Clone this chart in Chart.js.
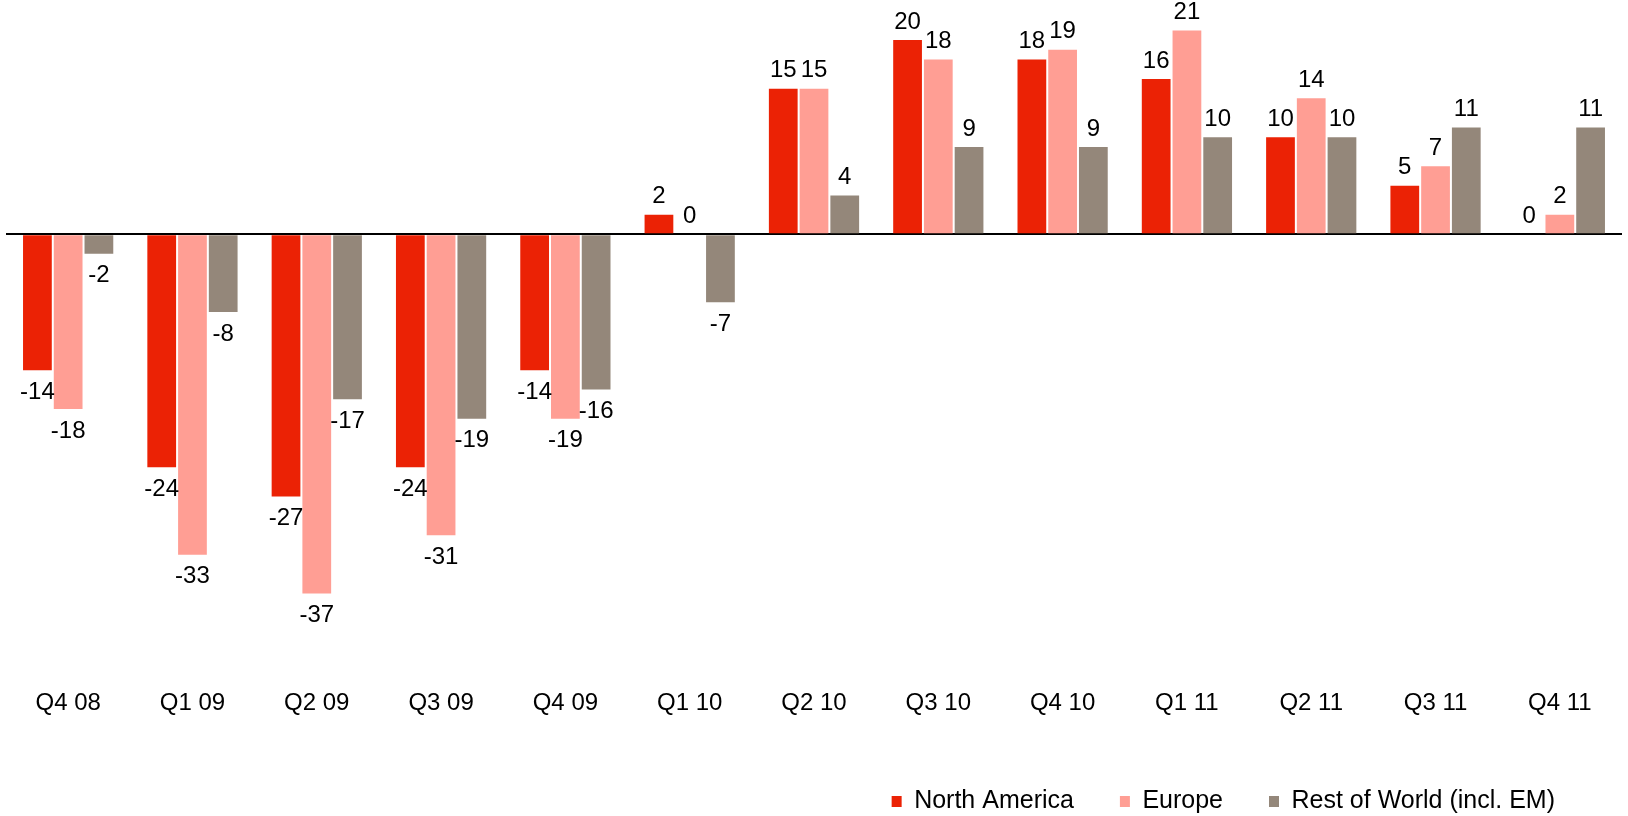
<!DOCTYPE html>
<html lang="en">
<head>
    <meta charset="UTF-8">
    <title>Quarterly change by region</title>
    <script src="https://cdn.jsdelivr.net/npm/chart.js"></script>
    <style>
        body { margin: 0; background: #fff; }
        #wrap { width: 1628px; height: 816px; }
    </style>
</head>
<body>
    <div id="wrap"><canvas id="regionChart"></canvas></div>
    <script>
        // data
        const quarters = ['Q4 08', 'Q1 09', 'Q2 09', 'Q3 09', 'Q4 09', 'Q1 10', 'Q2 10',
                          'Q3 10', 'Q4 10', 'Q1 11', 'Q2 11', 'Q3 11', 'Q4 11'];
        const northAmerica = [-14, -24, -27, -24, -14, 2, 15, 20, 18, 16, 10, 5, 0];
        const europe = [-18, -33, -37, -31, -19, 0, 15, 18, 19, 21, 14, 7, 2];
        const restOfWorld = [-2, -8, -17, -19, -16, -7, 4, 9, 9, 10, 10, 11, 11];

        const FONT = '"Liberation Sans", Arial, sans-serif';
        Chart.defaults.font.family = FONT;
        Chart.defaults.color = '#000';

        // value labels above / below each bar
        const valueLabels = {
            id: 'valueLabels',
            afterDatasetsDraw(chart) {
                const ctx = chart.ctx;
                ctx.save();
                ctx.font = '24px ' + FONT;
                ctx.fillStyle = '#000';
                ctx.textAlign = 'center';
                ctx.textBaseline = 'middle';
                chart.data.datasets.forEach((ds, i) => {
                    chart.getDatasetMeta(i).data.forEach((bar, j) => {
                        const v = ds.data[j];
                        const y = v >= 0 ? bar.y - 18 : bar.y + 22;
                        ctx.fillText(String(v), bar.x, y);
                    });
                });
                ctx.restore();
            }
        };

        // nudge legend down and left, x labels up
        const layoutNudge = {
            id: 'layoutNudge',
            afterLayout(chart) {
                const lg = chart.legend;
                lg.right -= 21;
                lg.top += 8;
                lg.bottom += 8;
                const xs = chart.scales.x;
                xs.top -= 14;
                xs.bottom -= 14;
            }
        };

        const ctx = document.getElementById('regionChart').getContext('2d');
        new Chart(ctx, {
            type: 'bar',
            data: {
                labels: quarters,
                datasets: [
                    { label: 'North America', data: northAmerica, backgroundColor: '#EB2205' },
                    { label: 'Europe', data: europe, backgroundColor: '#FF9E94' },
                    { label: 'Rest of World (incl. EM)', data: restOfWorld, backgroundColor: '#94877A' }
                ]
            },
            options: {
                responsive: true,
                maintainAspectRatio: false,
                animation: false,
                layout: { padding: { left: 6, right: 6, top: 0, bottom: 0 } },
                datasets: {
                    bar: { categoryPercentage: 0.742, barPercentage: 0.935, borderWidth: 0 }
                },
                plugins: {
                    tooltip: { enabled: false },
                    legend: {
                        position: 'bottom',
                        align: 'end',
                        labels: {
                            boxWidth: 10,
                            boxHeight: 11,
                            padding: 46,
                            color: '#000',
                            font: { size: 25 }
                        }
                    }
                },
                scales: {
                    x: {
                        grid: { display: false },
                        border: { display: false },
                        ticks: { color: '#000', font: { size: 24 }, autoSkip: false, maxRotation: 0, padding: 3 }
                    },
                    y: {
                        min: -47.17,
                        max: 24.13,
                        z: 1,
                        border: { display: false },
                        ticks: { display: false, stepSize: 1 },
                        grid: {
                            drawTicks: false,
                            lineWidth: 2,
                            color: c => c.tick.value === 0 ? '#000' : 'rgba(0,0,0,0)'
                        }
                    }
                }
            },
            plugins: [valueLabels, layoutNudge]
        });
    </script>
</body>
</html>
